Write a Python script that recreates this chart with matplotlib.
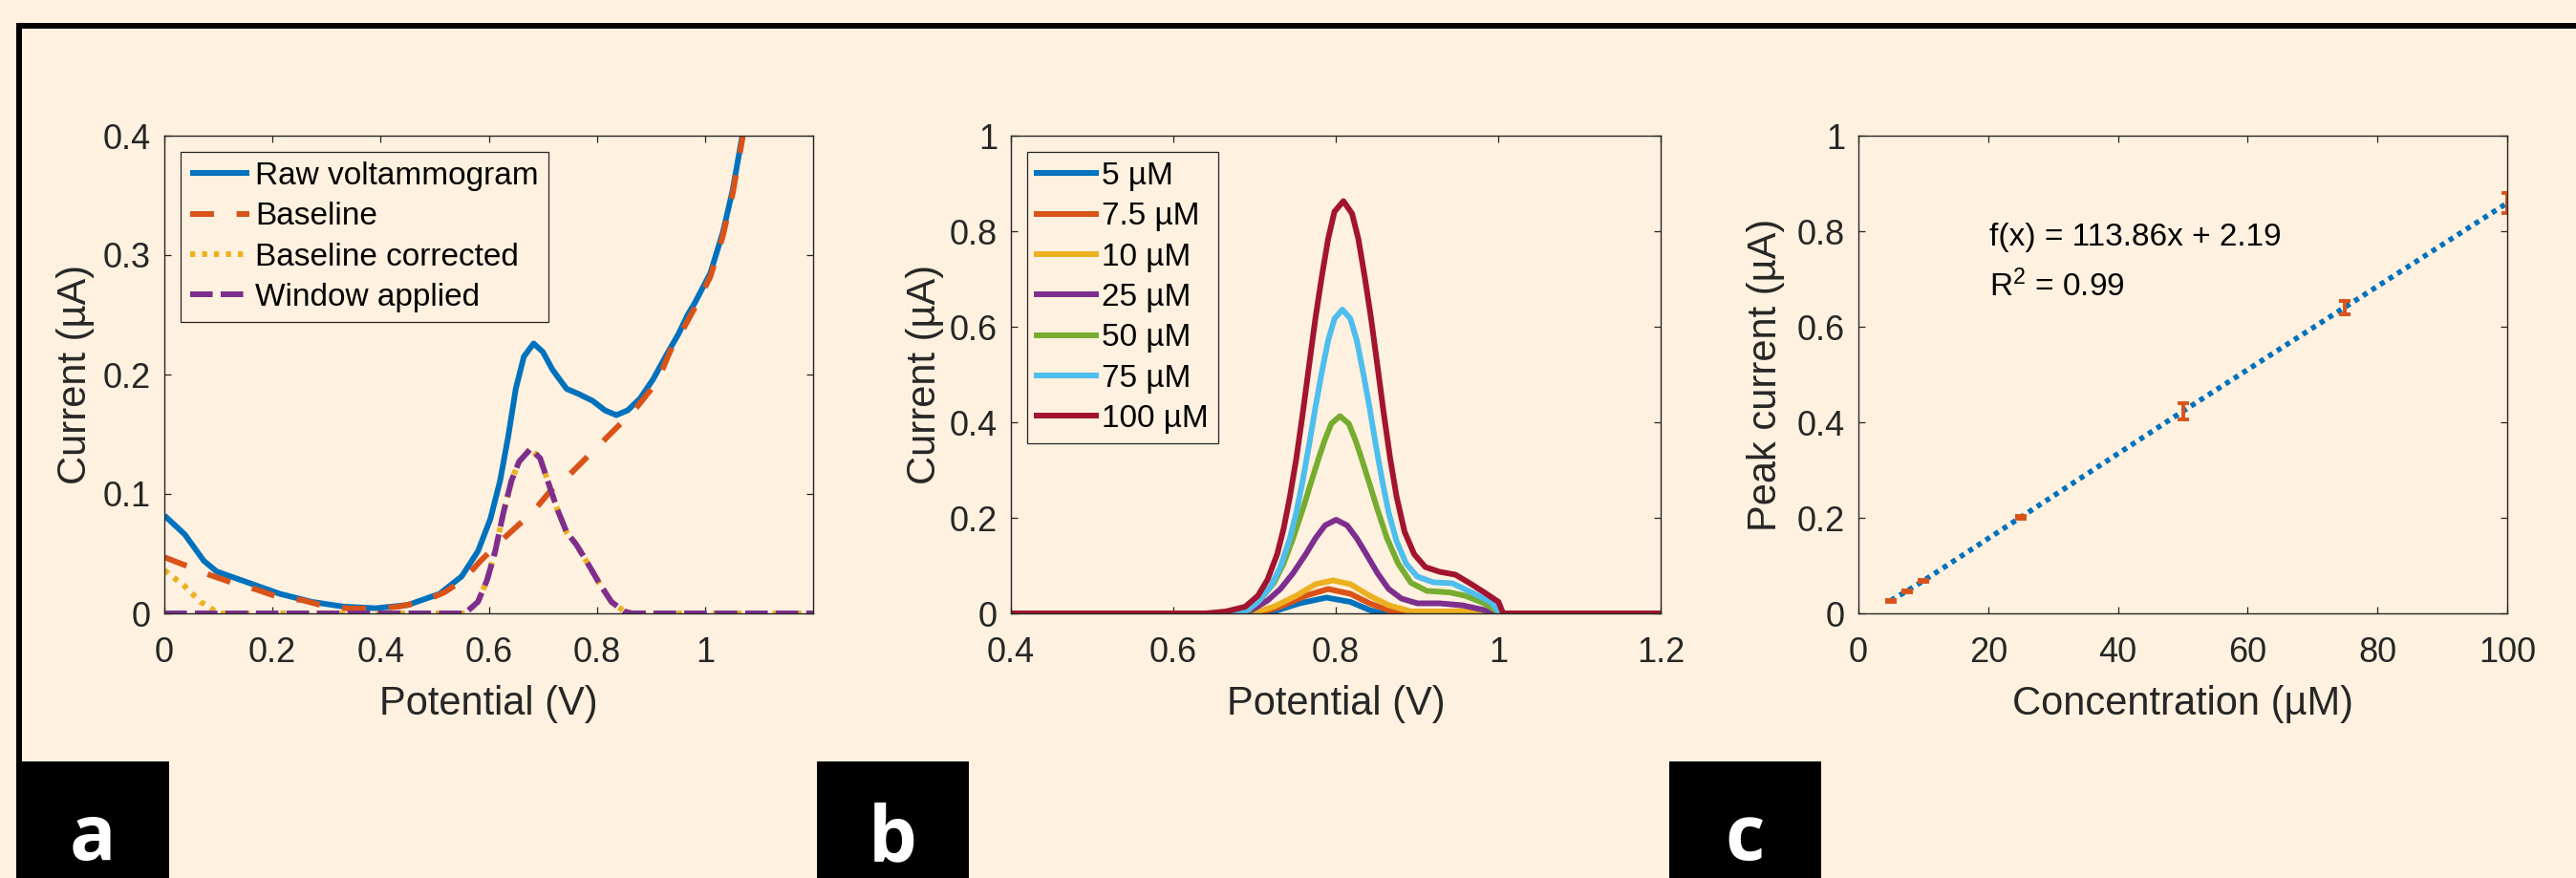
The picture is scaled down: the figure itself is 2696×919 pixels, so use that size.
import matplotlib
matplotlib.use('Agg')
import matplotlib.pyplot as plt
from matplotlib.patches import Rectangle

# ---- panel a : raw voltammogram processing ----
raw_v = [0.0, 0.038, 0.073, 0.097, 0.156, 0.214, 0.273, 0.332, 0.391, 0.45,
         0.509, 0.55, 0.58, 0.603, 0.621, 0.636, 0.65, 0.665, 0.683, 0.70,
         0.718, 0.744, 0.765, 0.792, 0.815, 0.836, 0.857, 0.88, 0.904, 0.927,
         0.951, 0.968, 0.98, 1.01, 1.033, 1.051, 1.069, 1.075]
raw_i = [0.082, 0.066, 0.044, 0.035, 0.0256, 0.0163, 0.0096, 0.0056, 0.0043, 0.007,
         0.0163, 0.031, 0.052, 0.079, 0.111, 0.148, 0.188, 0.215, 0.226, 0.219,
         0.204, 0.188, 0.184, 0.178, 0.170, 0.166, 0.170, 0.180, 0.196, 0.215,
         0.234, 0.250, 0.259, 0.285, 0.319, 0.354, 0.40, 0.42]

base_v = [0.0, 0.04, 0.085, 0.126, 0.17, 0.211, 0.256, 0.30, 0.345, 0.389,
          0.433, 0.477, 0.518, 0.553, 0.585, 0.621, 0.65, 0.68, 0.715, 0.744,
          0.78, 0.809, 0.842, 0.871, 0.901, 0.921, 0.939, 0.962, 0.98, 1.01,
          1.033, 1.051, 1.069, 1.075]
base_i = [0.047, 0.040, 0.032, 0.0256, 0.020, 0.0136, 0.011, 0.0056, 0.004, 0.004,
          0.0056, 0.0096, 0.0176, 0.028, 0.044, 0.060, 0.072, 0.084, 0.103, 0.1136,
          0.13, 0.143, 0.158, 0.171, 0.188, 0.204, 0.223, 0.240, 0.255, 0.282,
          0.316, 0.351, 0.397, 0.42]

corr_v = [0.0, 0.037, 0.067, 0.09, 0.10, 0.556, 0.58, 0.597, 0.612, 0.627,
          0.642, 0.656, 0.677, 0.695, 0.709, 0.727, 0.744, 0.762, 0.78, 0.804,
          0.827, 0.851, 0.865, 1.2]
corr_i = [0.036, 0.023, 0.0096, 0.003, 0.0, 0.0, 0.0096, 0.028, 0.052, 0.084,
          0.111, 0.127, 0.1376, 0.130, 0.111, 0.087, 0.068, 0.0576, 0.0443, 0.0256,
          0.0096, 0.0016, 0.0, 0.0]

win_v = [0.0, 0.556, 0.58, 0.597, 0.612, 0.627, 0.642, 0.656, 0.677, 0.695,
         0.709, 0.727, 0.744, 0.762, 0.78, 0.804, 0.827, 0.851, 0.865, 1.2]
win_i = [0.0, 0.0, 0.0096, 0.028, 0.052, 0.084, 0.111, 0.127, 0.1376, 0.130,
         0.111, 0.087, 0.068, 0.0576, 0.0443, 0.0256, 0.0096, 0.0016, 0.0, 0.0]

# ---- panel b : windowed voltammograms per concentration ----
conc_labels = ['5 µM', '7.5 µM', '10 µM', '25 µM', '50 µM', '75 µM', '100 µM']
b_v = [
    [0.4, 0.70, 0.7239, 0.7553, 0.7886, 0.818, 0.8416, 0.8573, 1.2],
    [0.4, 0.7043, 0.7318, 0.7631, 0.7906, 0.818, 0.8416, 0.869, 0.90, 1.2],
    [0.4, 0.6965, 0.7239, 0.7514, 0.7749, 0.7965, 0.818, 0.8416, 0.8651, 0.8926,
     0.94, 0.96, 0.99, 1.2],
    [0.4, 0.675, 0.6965, 0.7161, 0.7318, 0.7474, 0.7631, 0.7749, 0.7867, 0.8004,
     0.8141, 0.8259, 0.8376, 0.8514, 0.8651, 0.8808, 0.9004, 0.9278, 0.9553,
     0.9827, 1.003, 1.2],
    [0.4, 0.67, 0.6926, 0.7082, 0.7239, 0.7357, 0.7474, 0.7592, 0.769, 0.7788,
     0.7867, 0.7945, 0.8051, 0.8161, 0.8239, 0.8318, 0.8416, 0.8514, 0.8631,
     0.8769, 0.8926, 0.9122, 0.9396, 0.9592, 0.9827, 1.003, 1.2],
    [0.4, 0.66, 0.6886, 0.7043, 0.72, 0.7318, 0.7435, 0.7514, 0.7592, 0.767,
     0.7749, 0.7827, 0.7906, 0.7984, 0.8082, 0.818, 0.8259, 0.8337, 0.8416,
     0.8494, 0.8573, 0.8651, 0.8749, 0.8867, 0.9004, 0.92, 0.9435, 0.967,
     0.9906, 1.003, 1.2],
    [0.4, 0.64, 0.665, 0.6886, 0.7043, 0.716, 0.7279, 0.7357, 0.7435, 0.7514,
     0.7592, 0.767, 0.7749, 0.7827, 0.7906, 0.7984, 0.8094, 0.82, 0.8278, 0.8357,
     0.8435, 0.8514, 0.8592, 0.867, 0.8749, 0.8847, 0.8965, 0.9102, 0.9278,
     0.9474, 0.967, 0.9827, 1.0004, 1.006, 1.2],
]
b_i = [
    [0.0, 0.0, 0.004, 0.021, 0.033, 0.024, 0.007, 0.0, 0.0],
    [0.0, 0.0, 0.014, 0.037, 0.051, 0.041, 0.021, 0.004, 0.0, 0.0],
    [0.0, 0.0, 0.014, 0.037, 0.061, 0.069, 0.061, 0.037, 0.017, 0.004,
     0.004, 0.006, 0.0, 0.0],
    [0.0, 0.0, 0.007, 0.027, 0.051, 0.084, 0.124, 0.157, 0.184, 0.196,
     0.184, 0.157, 0.124, 0.084, 0.051, 0.031, 0.021, 0.021, 0.017,
     0.007, 0.0, 0.0],
    [0.0, 0.0, 0.007, 0.031, 0.064, 0.104, 0.157, 0.217, 0.271, 0.324,
     0.364, 0.397, 0.413, 0.397, 0.364, 0.324, 0.271, 0.217, 0.157,
     0.104, 0.064, 0.047, 0.044, 0.037, 0.021, 0.0, 0.0],
    [0.0, 0.0, 0.004, 0.024, 0.057, 0.097, 0.157, 0.211, 0.277, 0.351,
     0.431, 0.504, 0.571, 0.617, 0.636, 0.617, 0.571, 0.504, 0.431,
     0.351, 0.277, 0.211, 0.151, 0.104, 0.077, 0.065, 0.063, 0.044,
     0.024, 0.0, 0.0],
    [0.0, 0.0, 0.004, 0.014, 0.0373, 0.0707, 0.124, 0.177, 0.244, 0.324,
     0.417, 0.517, 0.617, 0.704, 0.784, 0.841, 0.863, 0.837, 0.784, 0.704,
     0.617, 0.517, 0.417, 0.324, 0.244, 0.171, 0.124, 0.097, 0.087,
     0.081, 0.061, 0.044, 0.024, 0.0, 0.0],
]

# ---- panel c : calibration ----
conc = [5, 7.5, 10, 25, 50, 75, 100]
peak = [0.027, 0.047, 0.068, 0.201, 0.423, 0.641, 0.859]
peak_err = [0.002, 0.002, 0.002, 0.003, 0.017, 0.014, 0.021]
fit_text = 'f(x) = 113.86x + 2.19'
r2_text = 'R$^2$ = 0.99'

BG = '#fef1df'
MBLUE, MORANGE, MYELLOW, MPURPLE = '#0072BD', '#D95319', '#EDB120', '#7E2F8E'
COLORS_B = ['#0072BD', '#D95319', '#EDB120', '#7E2F8E', '#77AC30', '#4DBEEE', '#A2142F']
AXC = '#262626'
LW = 4.3

plt.rcParams['font.family'] = ['Liberation Sans', 'DejaVu Sans']
plt.rcParams['mathtext.fontset'] = 'custom'
plt.rcParams['mathtext.rm'] = 'Liberation Sans'
plt.rcParams['mathtext.it'] = 'Liberation Sans:italic'
plt.rcParams['lines.scale_dashes'] = False

fig = plt.figure(figsize=(26.96, 9.19), dpi=100, facecolor=BG)
W, H = 2696.0, 919.0


def make_axes(left_px, width_px):
    ax = fig.add_axes([left_px / W, (H - 642) / H, width_px / W, 500 / H])
    ax.set_facecolor(BG)
    for sp in ax.spines.values():
        sp.set_color(AXC)
        sp.set_linewidth(1.0)
    ax.tick_params(direction='in', top=True, right=True, length=5, width=0.9,
                   color=AXC, labelcolor=AXC, labelsize=26)
    ax.tick_params(axis='x', pad=17)
    ax.tick_params(axis='y', pad=10)
    return ax


def style_legend(ax):
    leg = ax.legend(loc='upper left', bbox_to_anchor=(0.025, 0.966), borderaxespad=0,
                    fontsize=24, handlelength=1.85, handletextpad=0.2, borderpad=0.3,
                    labelspacing=0.34, fancybox=False, framealpha=1, facecolor=BG,
                    edgecolor=AXC)
    leg.get_frame().set_linewidth(0.9)
    for t in leg.get_texts():
        t.set_color('black')
    return leg


# panel a
ax1 = make_axes(172, 679)
ax1.plot(raw_v, raw_i, color=MBLUE, lw=LW, label='Raw voltammogram',
         solid_capstyle='butt', solid_joinstyle='round')
ax1.plot(base_v, base_i, color=MORANGE, lw=LW, dashes=(18, 17), label='Baseline')
ax1.plot(corr_v, corr_i, color=MYELLOW, lw=LW, dashes=(3.8, 5.2), label='Baseline corrected')
ax1.plot(win_v, win_i, color=MPURPLE, lw=LW, dashes=(17, 6), label='Window applied')
ax1.set_xlim(0, 1.2)
ax1.set_ylim(0, 0.4)
ax1.set_xticks([0, 0.2, 0.4, 0.6, 0.8, 1.0])
ax1.set_xticklabels(['0', '0.2', '0.4', '0.6', '0.8', '1'])
ax1.set_yticks([0, 0.1, 0.2, 0.3, 0.4])
ax1.set_yticklabels(['0', '0.1', '0.2', '0.3', '0.4'])
ax1.set_xlabel('Potential (V)', fontsize=30, color=AXC)
ax1.set_ylabel('Current (µA)', fontsize=30, color=AXC)
ax1.xaxis.set_label_coords(0.5, -0.15)
ax1.yaxis.set_label_coords(-0.108, 0.5)
style_legend(ax1)

# panel b
ax2 = make_axes(1058, 680)
for xs, ys, lab, col in zip(b_v, b_i, conc_labels, COLORS_B):
    ax2.plot(xs, ys, color=col, lw=LW, label=lab, solid_joinstyle='round')
ax2.set_xlim(0.4, 1.2)
ax2.set_ylim(0, 1)
ax2.set_xticks([0.4, 0.6, 0.8, 1.0, 1.2])
ax2.set_xticklabels(['0.4', '0.6', '0.8', '1', '1.2'])
ax2.set_yticks([0, 0.2, 0.4, 0.6, 0.8, 1.0])
ax2.set_yticklabels(['0', '0.2', '0.4', '0.6', '0.8', '1'])
ax2.set_xlabel('Potential (V)', fontsize=30, color=AXC)
ax2.set_ylabel('Current (µA)', fontsize=30, color=AXC)
ax2.xaxis.set_label_coords(0.5, -0.15)
ax2.yaxis.set_label_coords(-0.103, 0.5)
style_legend(ax2)

# panel c
ax3 = make_axes(1945, 679)
ax3.plot(conc, peak, color=MBLUE, lw=4.0, dashes=(3.8, 3.9))
ax3.errorbar(conc, peak, yerr=peak_err, fmt='none', ecolor=MORANGE, elinewidth=2.8,
             capsize=4.5, capthick=2.8)
ax3.set_xlim(0, 100)
ax3.set_ylim(0, 1)
ax3.set_xticks([0, 20, 40, 60, 80, 100])
ax3.set_yticks([0, 0.2, 0.4, 0.6, 0.8, 1.0])
ax3.set_yticklabels(['0', '0.2', '0.4', '0.6', '0.8', '1'])
ax3.set_xlabel('Concentration (µM)', fontsize=30, color=AXC)
ax3.set_ylabel('Peak current (µA)', fontsize=30, color=AXC)
ax3.xaxis.set_label_coords(0.5, -0.15)
ax3.yaxis.set_label_coords(-0.113, 0.5)
ax3.text(20.2, 0.786, fit_text, fontsize=24, color='black', va='center', ha='left')
ax3.text(20.2, 0.684, r2_text, fontsize=24, color='black', va='center', ha='left')

# outer frame and panel letters
fig.add_artist(Rectangle((17 / W, 0), 6 / W, (H - 24) / H, transform=fig.transFigure,
                         facecolor='black', edgecolor='none'))
fig.add_artist(Rectangle((17 / W, (H - 30) / H), (W - 17) / W, 6 / H,
                         transform=fig.transFigure, facecolor='black', edgecolor='none'))
for x0, x1, letter in [(17, 177, 'a'), (855, 1014, 'b'), (1747, 1906, 'c')]:
    fig.add_artist(Rectangle((x0 / W, 0), (x1 - x0) / W, (H - 797) / H,
                             transform=fig.transFigure, facecolor='black', edgecolor='none'))
    fig.text((x0 + x1) / 2 / W, (H - 900) / H, letter, color='white', fontsize=58,
             fontweight='bold', family=['Open Sans', 'DejaVu Sans'],
             ha='center', va='baseline')

fig.savefig('out.png', dpi=100, facecolor=BG)
